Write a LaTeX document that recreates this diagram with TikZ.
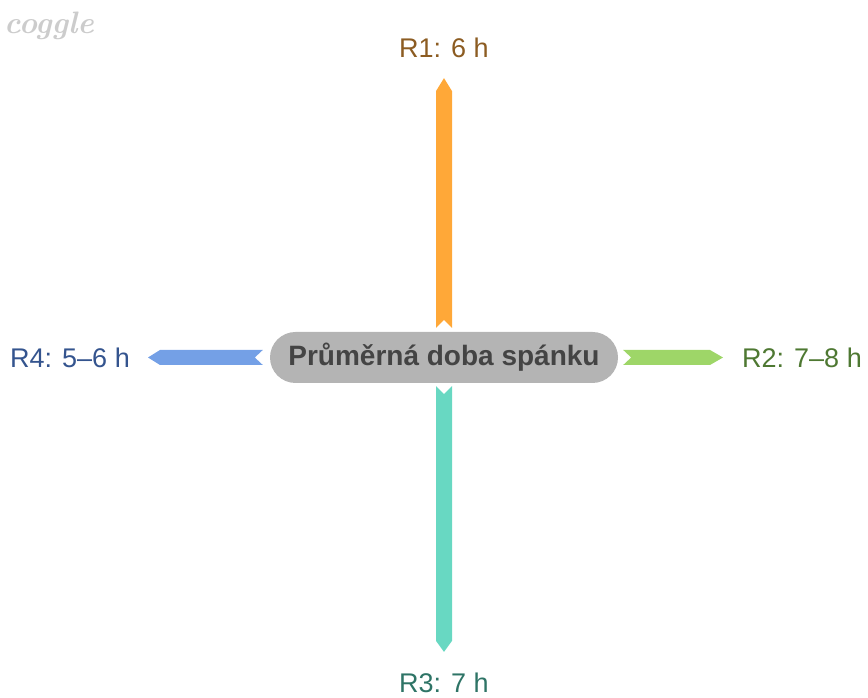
\documentclass[tikz,border=0pt]{standalone}
\usepackage{fontspec}
\setmainfont{Liberation Sans}
\newfontfamily\logofont{Latin Modern Roman}
\usetikzlibrary{calc}
\definecolor{rootgray}{RGB}{180,180,180}
\definecolor{roottext}{RGB}{68,68,68}
\definecolor{orangefill}{RGB}{255,168,56}
\definecolor{orangetext}{RGB}{140,92,34}
\definecolor{greenfill}{RGB}{158,214,104}
\definecolor{greentext}{RGB}{78,120,50}
\definecolor{tealfill}{RGB}{104,216,194}
\definecolor{tealtext}{RGB}{46,116,102}
\definecolor{bluefill}{RGB}{116,160,230}
\definecolor{bluetext}{RGB}{52,84,142}
\tikzstyle{root}=[rounded corners=25.5pt,fill=rootgray,minimum width=348pt,minimum height=51pt,inner sep=0pt,text=roottext,font=\fontsize{28}{30}\selectfont\bfseries]
\tikzstyle{leaf}=[inner sep=0pt,font=\fontsize{27}{30}\selectfont]

\begin{document}
\begin{tikzpicture}[x=1pt,y=1pt]
\useasboundingbox (0,0) rectangle (868,698);
\node[text=black!20,font=\fontsize{31}{33}\logofont\bfseries\itshape] at (49,672) (logo) {coggle};
\node[root] at (444,340.5) (c) {Průměrná doba spánku};
\node[leaf,text=orangetext] at (444,650) (r1) {R1: 6 h};
\node[leaf,text=greentext,anchor=west] at (742,340.5) (r2) {R2: 7--8 h};
\node[leaf,text=tealtext] at (444,15) (r3) {R3: 7 h};
\node[leaf,text=bluetext,anchor=east] at (130,340.5) (r4) {R4: 5--6 h};
% branches: notch at the root, point at the leaf
\fill[orangefill] ($(c.north)+(-8,4)$) -- ($(r1.south)+(-8,-33)$) -- ($(r1.south)+(0,-20)$)
  -- ($(r1.south)+(8,-33)$) -- ($(c.north)+(8,4)$) -- ($(c.north)+(0,12)$) -- cycle;
\fill[greenfill] ($(c.east)+(5,7.5)$) -- ($(r2.west)+(-32,7.5)$) -- ($(r2.west)+(-19,0)$)
  -- ($(r2.west)+(-32,-7.5)$) -- ($(c.east)+(5,-7.5)$) -- ($(c.east)+(13,0)$) -- cycle;
\fill[tealfill] ($(c.south)+(-8,-3)$) -- ($(r3.north)+(-8,32)$) -- ($(r3.north)+(0,21)$)
  -- ($(r3.north)+(8,32)$) -- ($(c.south)+(8,-3)$) -- ($(c.south)+(0,-11)$) -- cycle;
\fill[bluefill] ($(c.west)+(-7,7.5)$) -- ($(r4.east)+(30,7.5)$) -- ($(r4.east)+(18,0)$)
  -- ($(r4.east)+(30,-7.5)$) -- ($(c.west)+(-7,-7.5)$) -- ($(c.west)+(-15,0)$) -- cycle;
\end{tikzpicture}
\end{document}
